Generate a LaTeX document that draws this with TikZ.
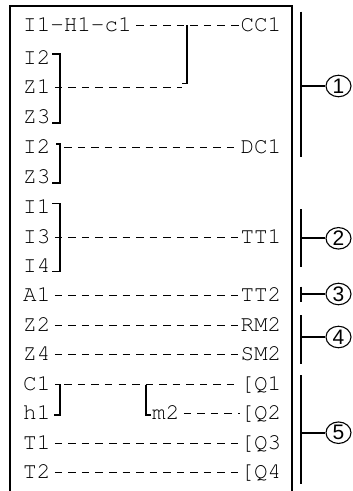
\documentclass[tikz,border=0pt]{standalone}
\usepackage[T1,TU]{fontenc}
\usepackage{fontspec}
\newfontfamily\markfont{Liberation Sans}
\usepackage{tikz}
\usetikzlibrary{shapes.geometric}
\newcommand\ladderfont{\fontencoding{T1}\fontfamily{pcr}\fontsize{22.6}{26}\selectfont}
\newcommand\circlefont{\markfont\fontsize{21}{21}\selectfont}

\begin{document}
\begin{tikzpicture}[x=1pt, y=-1pt,
  lbl/.style={font=\ladderfont, inner sep=0pt, text height=12.7pt, text depth=0pt},
  inl/.style={lbl, anchor=west},
  outl/.style={lbl, anchor=east},
  wire/.style={line width=0.9pt, dash pattern=on 7.5pt off 6.05pt, dash phase=9.25pt},
  link/.style={line width=1.9pt},
  frame/.style={line width=2pt},
  numbox/.style={ellipse, draw, line width=1.1pt, minimum width=25pt, minimum height=21.5pt, inner sep=0pt},
]
  \useasboundingbox (0,0) rectangle (353,491);

  % program frame
  \draw[frame] (9.5,495) -- (9.5,5.5) -- (291.7,5.5) -- (291.7,495);

  % inputs
  \node[inl] (i0)  at (23,25)    {I1-H1-c1};
  \node[inl] (i1)  at (23,58)    {I2};
  \node[inl] (i2)  at (23,87.5)  {Z1};
  \node[inl] (i3)  at (23,117)   {Z3};
  \node[inl] (i4)  at (23,147)   {I2};
  \node[inl] (i5)  at (23,177.5) {Z3};
  \node[inl] (i6)  at (23,207.5) {I1};
  \node[inl] (i7)  at (23,237)   {I3};
  \node[inl] (i8)  at (23,266)   {I4};
  \node[inl] (i9)  at (23,295.5) {A1};
  \node[inl] (i10) at (23,325)   {Z2};
  \node[inl] (i11) at (23,354.5) {Z4};
  \node[inl] (i12) at (23,384.5) {C1};
  \node[inl] (i13) at (23,413.5) {h1};
  \node[inl] (i14) at (23,443)   {T1};
  \node[inl] (i15) at (23,472.5) {T2};
  \node[inl] (m2)  at (152,413.5) {m2};

  % outputs
  \node[outl] (o0)  at (281.5,25)    {CC1};
  \node[outl] (o4)  at (281.5,147)   {DC1};
  \node[outl] (o7)  at (281.5,237)   {TT1};
  \node[outl] (o9)  at (281.5,295.5) {TT2};
  \node[outl] (o10) at (281.5,325)   {RM2};
  \node[outl] (o11) at (281.5,354.5) {SM2};
  \node[outl] (o12) at (281.5,384.5) {[Q1};
  \node[outl] (o13) at (281.5,413.5) {[Q2};
  \node[outl] (o14) at (281.5,443)   {[Q3};
  \node[outl] (o15) at (281.5,472.5) {[Q4};

  % junctions
  \coordinate (jA) at (182,87.5);
  \coordinate (jB) at (60,147);
  \coordinate (jC) at (60,384.5);

  % rungs
  \draw[wire] (i0) -- (o0);
  \draw[wire] (i2) -- (jA);
  \draw[wire] (jB) -- (o4);
  \draw[wire] (i7) -- (o7);
  \draw[wire] (i9) -- (o9);
  \draw[wire] (i10) -- (o10);
  \draw[wire] (i11) -- (o11);
  \draw[wire] (jC) -- (o12);
  \draw[wire] (m2) -- (o13);
  \draw[wire] (i14) -- (o14);
  \draw[wire] (i15) -- (o15);

  % brackets
  \draw[link] (187,25) -- (187,83.5) -- (182,83.5);
  \draw[link] (52,54) -- (60,54) -- (60,123) -- (52,123);
  \draw[link] (56,144) -- (60,144) -- (60,183) -- (52,183);
  \draw[link] (52,203.5) -- (60,203.5) -- (60,271.5) -- (52,271.5);
  \draw[link] (55,384.5) -- (60,384.5) -- (60,415) -- (54,415);
  \draw[link] (146,384.5) -- (146,415) -- (151,415);

  % function groups
  \node[numbox] (n1) at (338.5,86)    {\circlefont 1};
  \node[numbox] (n2) at (338.5,238.3) {\circlefont 2};
  \node[numbox] (n3) at (338.5,294)   {\circlefont 3};
  \node[numbox] (n4) at (338.5,337)   {\circlefont 4};
  \node[numbox] (n5) at (338.5,432.7) {\circlefont 5};
  \coordinate (g1) at (301,86);
  \coordinate (g2) at (301,238.3);
  \coordinate (g3) at (301,294);
  \coordinate (g4) at (301,337);
  \coordinate (g5) at (301,432.7);
  \draw[link] (301,11.7) -- (301,157);
  \draw[link] (301,209.3) -- (301,267.3);
  \draw[link] (301,286.7) -- (301,301.7);
  \draw[link] (301,315) -- (301,364.3);
  \draw[link] (301,375) -- (301,484);
  \draw[link] (g1) -- (n1);
  \draw[link] (g2) -- (n2);
  \draw[link] (g3) -- (n3);
  \draw[link] (g4) -- (n4);
  \draw[link] (g5) -- (n5);
\end{tikzpicture}
\end{document}
